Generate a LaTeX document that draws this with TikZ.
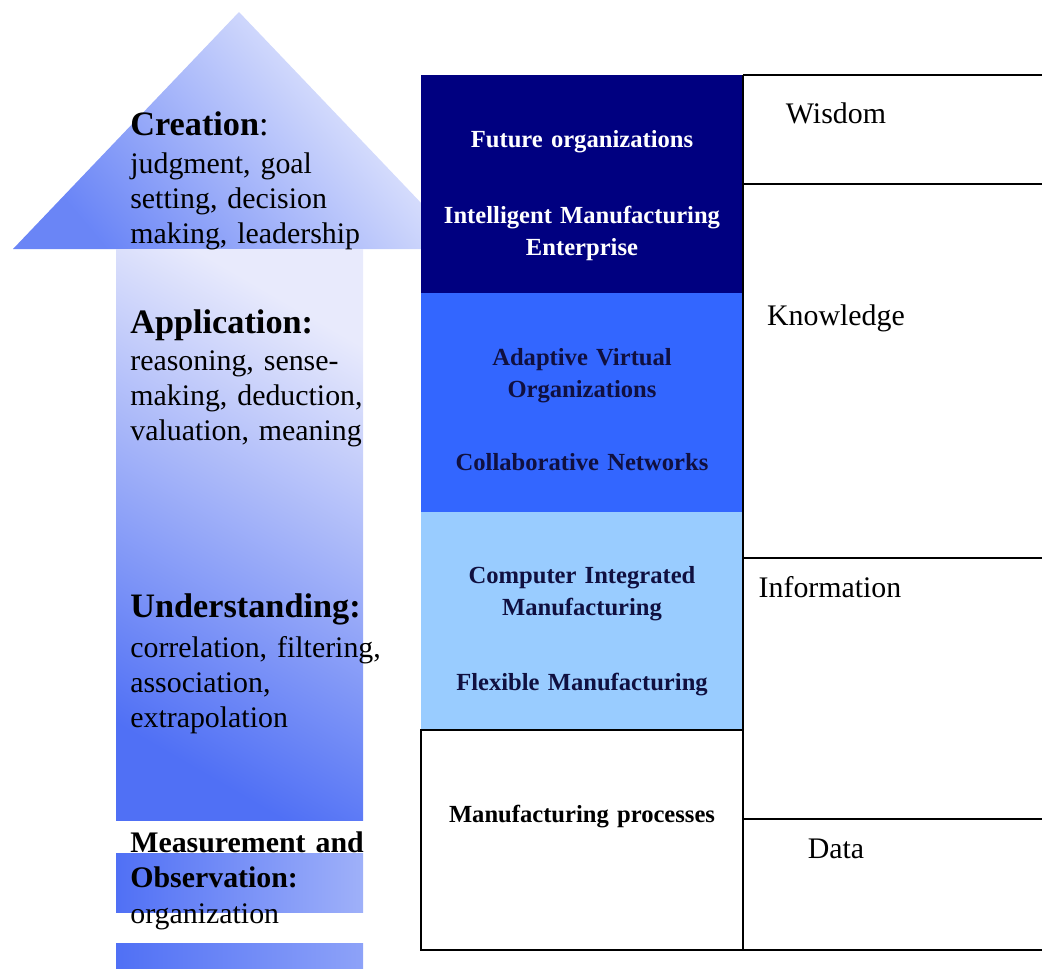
\documentclass[tikz,border=0pt]{standalone}
\usepackage{fontspec}
\setmainfont{Liberation Serif}
\usepackage{tikz}
\usetikzlibrary{calc}

\definecolor{navybox}{RGB}{0,0,128}
\definecolor{bluebox}{RGB}{51,102,255}
\definecolor{skybox}{RGB}{153,204,255}
\definecolor{arrowdeep}{RGB}{80,112,245}
\definecolor{arrowpale}{RGB}{232,234,252}
\definecolor{inktext}{RGB}{16,16,64}

\newcommand{\headfont}{\fontsize{19.5pt}{22pt}\selectfont\bfseries}
\newcommand{\bodyfont}{\fontsize{17pt}{20pt}\selectfont}
\newcommand{\boxfont}{\fontsize{14pt}{18.5pt}\selectfont\bfseries}

\begin{document}
\begin{tikzpicture}[x=0.02cm, y=-0.02cm,
    lefttext/.style={anchor=base west, inner sep=0pt, text width=6cm, align=left, font=\bodyfont},
    boxtext/.style={anchor=base, inner sep=0pt, text width=6cm, align=center, font=\boxfont},
    level/.style={anchor=base, inner sep=0pt, font=\bodyfont},
    rule/.style={line width=1pt}]
    \useasboundingbox (0,0) rectangle (1042,968);

    % the big arrow
    \coordinate (tip) at (239,12);
    \coordinate (headL) at (13,249);
    \coordinate (headR) at (465,249);
    \shade[top color=arrowpale!40!white, bottom color=arrowdeep!85!white, shading angle=-50] (headL) -- (tip) -- (headR) -- cycle;
    \shade[top color=arrowpale, bottom color=arrowdeep, shading angle=-30] (116,249) rectangle (363,820);
    \shade[left color=arrowdeep, right color=arrowdeep!55!white] (116,853) rectangle (363,912);
    \shade[left color=arrowdeep, right color=arrowdeep!65!white] (116,943) rectangle (363,968);

    % stacked boxes
    \coordinate (boxNW) at (421,75);
    \coordinate (boxSE) at (743,950);
    \fill[navybox] (boxNW) rectangle (743,293);
    \fill[bluebox] (421,293) rectangle (743,512);
    \fill[skybox] (421,512) rectangle (743,730);
    \draw[rule] (421,730) rectangle (boxSE);

    % level column
    \draw[rule] (743,75) -- (boxSE);
    \foreach \y in {75,184,558,819,950}
        \draw[rule] (743,\y) -- (1042,\y);

    % left labels
    \node[lefttext, font=\headfont] (creation) at (130,135) {Creation{\mdseries :}};
    \node[lefttext] (creationtxt) at (130,173) {judgment, goal\\ setting, decision\\ making, leadership};
    \node[lefttext, font=\headfont] (application) at (130,333) {Application:};
    \node[lefttext] (applicationtxt) at (130,370) {reasoning, sense-\\ making, deduction,\\ valuation, meaning};
    \node[lefttext, font=\headfont] (understanding) at (130,617) {Understanding:};
    \node[lefttext] (understandingtxt) at (130,657) {correlation, filtering,\\ association,\\ extrapolation};
    \node[lefttext, font=\bodyfont\bfseries] (measurement) at (130,852) {Measurement and\\ Observation:};
    \node[lefttext] (measurementtxt) at (130,923) {organization};

    % box texts
    \node[boxtext, text=white] (future) at (582,147) {Future organizations};
    \node[boxtext, text=white] (intelligent) at (582,223) {Intelligent Manufacturing\\ Enterprise};
    \node[boxtext, text=inktext] (adaptive) at (582,365) {Adaptive Virtual\\ Organizations};
    \node[boxtext, text=inktext] (collab) at (582,470) {Collaborative Networks};
    \node[boxtext, text=inktext] (cim) at (582,583) {Computer Integrated\\ Manufacturing};
    \node[boxtext, text=inktext] (flexible) at (582,690) {Flexible Manufacturing};
    \node[boxtext] (processes) at (582,822) {Manufacturing processes};

    % levels
    \node[level] (wisdom) at (836,123) {Wisdom};
    \node[level] (knowledge) at (836,325) {Knowledge};
    \node[level] (information) at (830,597) {Information};
    \node[level] (data) at (836,858) {Data};
\end{tikzpicture}
\end{document}
